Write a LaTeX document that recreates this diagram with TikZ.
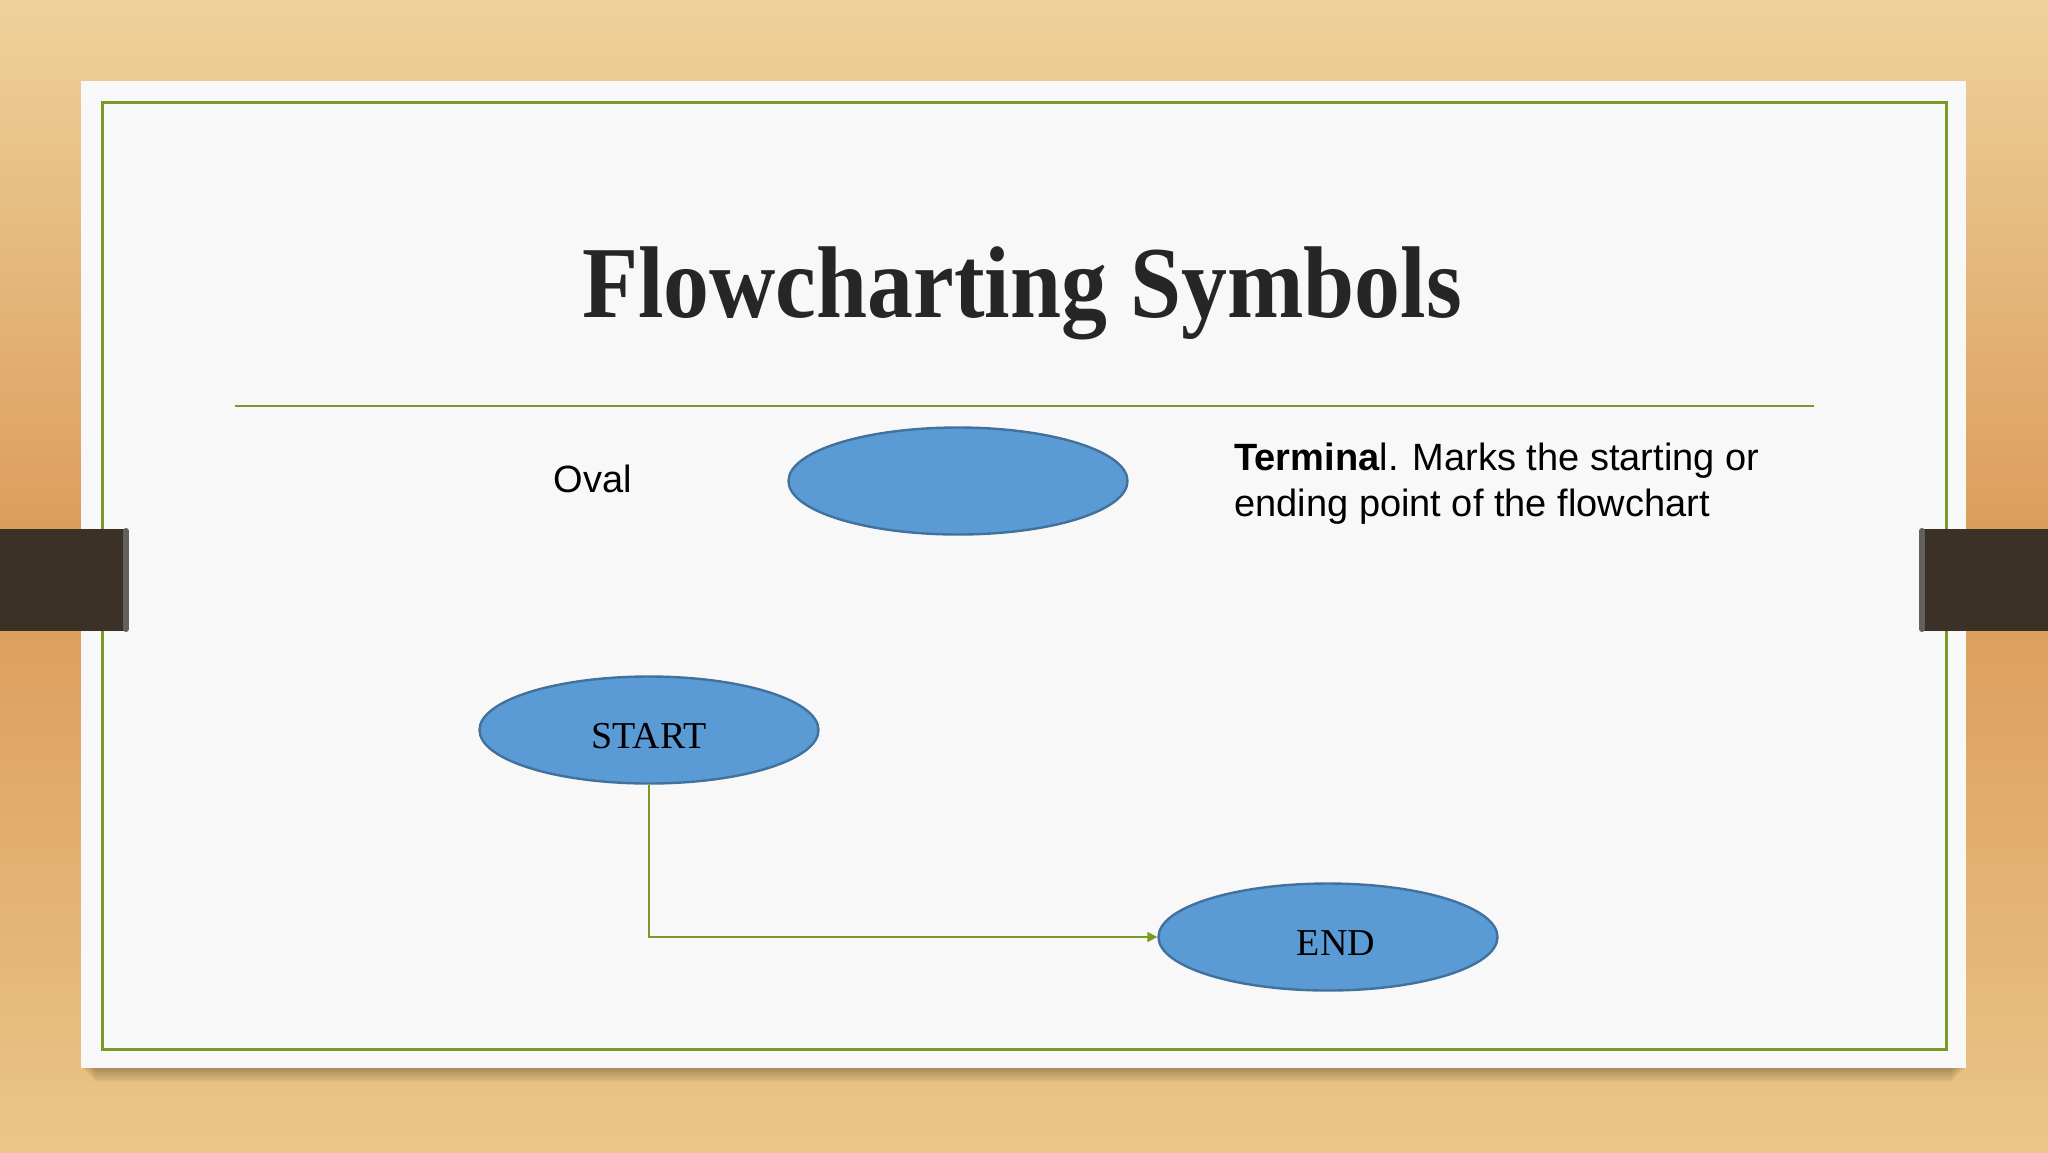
\documentclass[tikz,border=0pt]{standalone}
\usepackage{fontspec}
\setmainfont{Liberation Serif}
\setsansfont{Liberation Sans}
\newfontfamily\titlefont[FakeStretch=0.9]{Liberation Serif}
\usetikzlibrary{arrows.meta,shapes.geometric}
\definecolor{woodlight}{RGB}{238,210,156}
\definecolor{woodmid}{RGB}{219,154,88}
\definecolor{woodlow}{RGB}{234,198,136}
\definecolor{cardgray}{RGB}{248,248,248}
\definecolor{slidegreen}{RGB}{122,153,38}
\definecolor{tabbrown}{RGB}{60,49,38}
\definecolor{ovalblue}{RGB}{91,155,213}
\definecolor{ovalline}{RGB}{65,113,156}
\definecolor{titlegray}{RGB}{38,38,38}

\begin{document}
\begin{tikzpicture}[x=0.5pt,y=-0.5pt,
  terminal/.style={ellipse,draw=ovalline,line width=1.2pt,fill=ovalblue,
    minimum width=169.5pt,minimum height=53.5pt,inner sep=0pt,
    text height=18pt,text depth=0pt,font=\fontsize{19}{23}\selectfont},
  caption/.style={font=\sffamily\fontsize{19}{23}\selectfont,inner sep=0pt},
  flowarrow/.style={-{Triangle[length=5pt,width=5pt]},draw=slidegreen,
    line width=0.8pt},
  tab/.style={fill=tabbrown}
]
  % wooden desk and slide card
  \shade[top color=woodlight,bottom color=woodmid] (0,0) rectangle (2048,560);
  \shade[top color=woodmid,bottom color=woodlow] (0,560) rectangle (2048,1152);
  \foreach \s in {2,4,...,14} {
    \fill[black,opacity=0.04] (81+\s,90) rectangle (1966-\s,1068+\s);
  }
  \fill[cardgray] (81,81) rectangle (1966,1068);
  \draw[slidegreen,line width=1.5pt] (102,102) rectangle (1946,1049);

  % side tabs
  \fill[tab] (0,529) rectangle (127,631);
  \fill[tab] (1921,529) rectangle (2048,631);
  \draw[gray!60!tabbrown,line width=3pt,line cap=round] (126,531) -- (126,629);
  \draw[gray!60!tabbrown,line width=3pt,line cap=round] (1922,531) -- (1922,629);

  % title and rule
  \node[font=\titlefont\bfseries\fontsize{51}{60}\selectfont,text=titlegray,
    anchor=base] (title) at (1022,317) {Flowcharting Symbols};
  \draw[slidegreen,line width=1pt] (235,406) -- (1814,406);

  % symbols
  \node[caption] (ovallabel) at (593,479) {Oval};
  \node[terminal] (symoval) at (958,481) {};
  \node[caption,anchor=north west,align=left] (terminaltext) at (1234,443)
    {\textbf{Termina}l. Marks the starting or\\ending point of the flowchart};

  \node[terminal] (startoval) at (649,730) {START};
  \node[terminal] (endoval) at (1328,937) {\hspace*{8pt}END};

  \draw[flowarrow] (startoval.south) |- (endoval.west);
\end{tikzpicture}
\end{document}
